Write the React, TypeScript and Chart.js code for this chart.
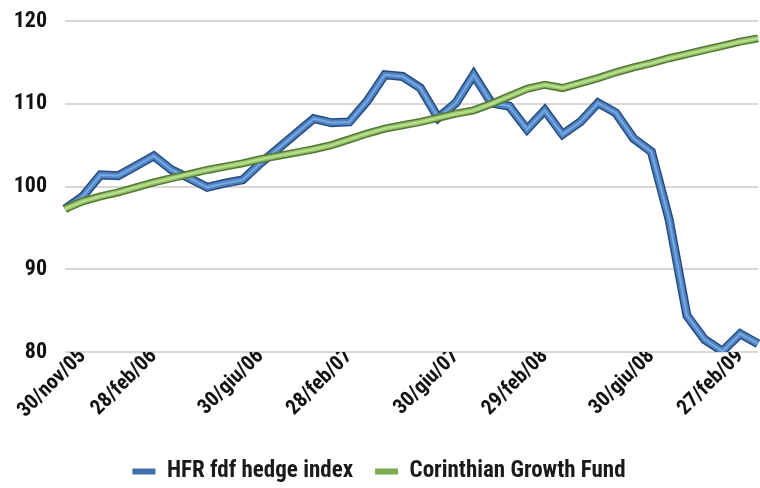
import React, { useEffect, useRef } from 'react';
import { Chart, registerables } from 'chart.js';

Chart.register(...registerables);

const tickLabels = ['30/nov/05', '28/feb/06', '30/giu/06', '28/feb/07', '30/giu/07', '29/feb/08', '30/giu/08', '27/feb/09'];
const tickLabelIndex = [1, 5, 11, 16, 22, 27, 33, 38];

const hfrValues = [
  97.3, 98.8, 101.4, 101.3, 102.5, 103.7, 102.0, 101.0, 99.9, 100.4,
  100.8, 102.8, 104.6, 106.4, 108.2, 107.7, 107.8, 110.3, 113.5, 113.3,
  111.9, 108.3, 110.1, 113.5, 110.1, 109.7, 106.9, 109.2, 106.3, 107.8,
  110.1, 108.9, 105.8, 104.2, 96.0, 84.4, 81.5, 80.1, 82.2, 81.0,
];
const corinthianValues = [
  97.3, 98.2, 98.8, 99.3, 99.9, 100.5, 101.0, 101.5, 102.0, 102.4,
  102.8, 103.3, 103.7, 104.1, 104.5, 105.0, 105.7, 106.4, 107.0, 107.4,
  107.8, 108.3, 108.8, 109.2, 110.0, 110.9, 111.8, 112.3, 111.9, 112.5,
  113.1, 113.8, 114.4, 114.9, 115.5, 116.0, 116.5, 117.0, 117.5, 117.9,
];
const seriesNames = ['HFR fdf hedge index', 'Corinthian Growth Fund'];
const yTicks = [80, 90, 100, 110, 120];

const FONT = "'Liberation Sans Narrow', 'Roboto Condensed', 'DejaVu Sans Condensed', sans-serif";

export default function App() {
  const ref = useRef<HTMLCanvasElement | null>(null);

  useEffect(() => {
    document.body.style.margin = '0';
    const canvas = ref.current;
    if (!canvas) return;
    const categories = hfrValues.map((_, i) => {
      const k = tickLabelIndex.indexOf(i);
      return k >= 0 ? tickLabels[k] : '';
    });
    const legendIdx = [1, 4];
    const chart = new Chart(canvas, {
      type: 'line',
      data: {
        labels: categories,
        datasets: [
          { label: seriesNames[0] + ' edge', data: hfrValues, borderColor: '#274d7e', backgroundColor: '#274d7e', borderWidth: 9, pointRadius: 0, tension: 0, order: 6 },
          { label: seriesNames[0], data: hfrValues, borderColor: '#4f83c4', backgroundColor: '#3d6fae', borderWidth: 6, pointRadius: 0, tension: 0, order: 5 },
          { label: seriesNames[0] + ' hi', data: hfrValues, borderColor: '#78a8e0', backgroundColor: '#78a8e0', borderWidth: 2, pointRadius: 0, tension: 0, order: 4 },
          { label: seriesNames[1] + ' edge', data: corinthianValues, borderColor: '#56753a', backgroundColor: '#56753a', borderWidth: 8, pointRadius: 0, tension: 0, order: 3 },
          { label: seriesNames[1], data: corinthianValues, borderColor: '#93c463', backgroundColor: '#79ad4e', borderWidth: 5, pointRadius: 0, tension: 0, order: 2 },
          { label: seriesNames[1] + ' hi', data: corinthianValues, borderColor: '#b9df93', backgroundColor: '#b9df93', borderWidth: 2, pointRadius: 0, tension: 0, order: 1 },
        ],
      },
      options: {
        responsive: false,
        animation: false,
        devicePixelRatio: 1,
        layout: { padding: { top: 21, right: 2, left: 0, bottom: -5 } },
        plugins: {
          tooltip: { enabled: false },
          legend: {
            position: 'bottom',
            labels: {
              boxWidth: 23,
              boxHeight: 6,
              padding: 22,
              color: '#1a1a1a',
              font: { family: FONT, size: 23, weight: 'bold' },
              generateLabels: (c: any) =>
                Chart.defaults.plugins.legend.labels
                  .generateLabels(c)
                  .filter((it: any) => legendIdx.includes(it.datasetIndex))
                  .sort((a: any, b: any) => a.datasetIndex - b.datasetIndex)
                  .map((it: any) => ({ ...it, lineWidth: 0, strokeStyle: 'rgba(0,0,0,0)' })),
            },
          },
        },
        scales: {
          x: {
            grid: { display: false, drawTicks: false },
            border: { display: false },
            afterFit: (s: any) => { s.height = 86; },
            ticks: {
              autoSkip: false,
              minRotation: 45,
              maxRotation: 45,
              padding: -8,
              color: '#111',
              font: { family: FONT, size: 21, weight: 'bold' },
              callback: (_v: any, i: number) => (categories[i] ? categories[i] : null),
            },
          },
          y: {
            min: yTicks[0],
            max: yTicks[yTicks.length - 1],
            afterFit: (s: any) => { s.width = 65; s.paddingTop = 0; s.paddingBottom = 0; },
            grid: { color: '#dcd7d2', lineWidth: 2, drawTicks: false },
            border: { display: false },
            ticks: {
              stepSize: 10,
              padding: 18,
              color: '#111',
              font: { family: FONT, size: 22, weight: 'bold' },
            },
          },
        },
      },
    });
    return () => chart.destroy();
  }, []);

  return (
    <div style={{ width: 760, height: 488 }}>
      <canvas ref={ref} width={760} height={488} style={{ width: 760, height: 488, display: 'block' }} />
    </div>
  );
}
